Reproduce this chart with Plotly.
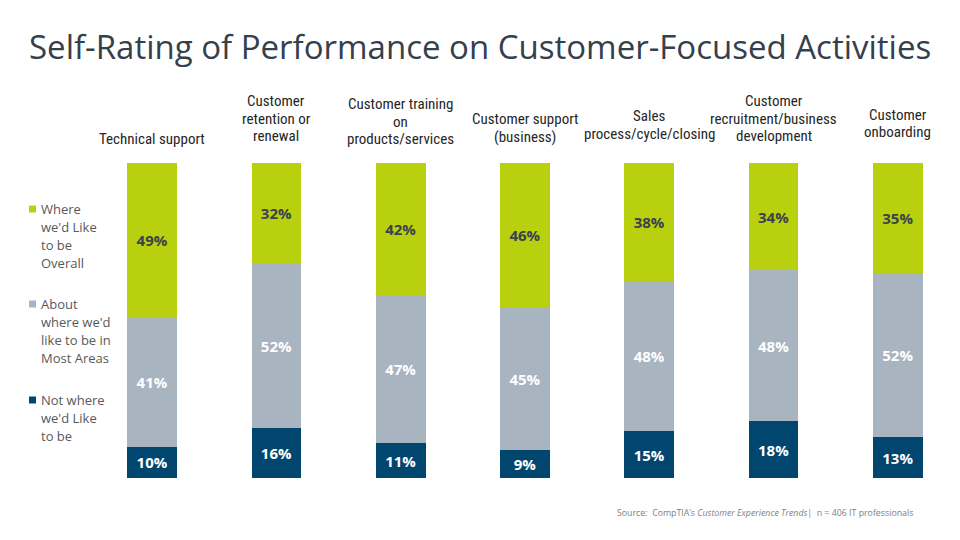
import plotly.graph_objects as go

categories = ["Technical support", "Customer retention or renewal", "Customer training on products/services",
              "Customer support (business)", "Sales process/cycle/closing",
              "Customer recruitment/business development", "Customer onboarding"]
cat_lines = [["Technical support"], ["Customer", "retention or", "renewal"], ["Customer training", "on", "products/services"],
             ["Customer support", "(business)"], ["Sales", "process/cycle/closing"],
             ["Customer", "recruitment/business", "development"], ["Customer", "onboarding"]]
cat_first_line_y = [139, 101, 104, 119, 116, 101, 115]
not_where = [10, 16, 11, 9, 15, 18, 13]
about_where = [41, 52, 47, 45, 48, 48, 52]
where_like = [49, 32, 42, 46, 38, 34, 35]
series_names = ["Not where we'd Like to be", "About where we'd like to be in Most Areas", "Where we'd Like to be Overall"]
legend_lines = [["Where", "we'd Like", "to be", "Overall"],
                ["About", "where we'd", "like to be in", "Most Areas"],
                ["Not where", "we'd Like", "to be"]]

NAVY = "#00466E"
GRAY = "#A8B4C0"
GREEN = "#B8D00E"

L, T, B = 90, 163, 478
PW, PH = 870, B - T


def px(xp):
    return (xp - L) / PW


def py(yp):
    return (B - yp) / PH


fig = go.Figure()
for name, vals, col, tcol in [(series_names[0], not_where, NAVY, "white"),
                              (series_names[1], about_where, GRAY, "white"),
                              (series_names[2], where_like, GREEN, "#3A4250")]:
    fig.add_trace(go.Bar(
        x=categories, y=vals, name=name, marker=dict(color=col, line=dict(width=0)),
        text=[f"{v}%" for v in vals], textposition="inside", insidetextanchor="middle",
        textfont=dict(family="Open Sans", size=15, color=tcol, weight="bold"),
        textangle=0, width=0.4, showlegend=False,
    ))

fig.update_layout(
    barmode="stack", barnorm="percent",
    width=960, height=540, margin=dict(l=L, r=0, t=T, b=540 - B),
    paper_bgcolor="white", plot_bgcolor="white",
    xaxis=dict(range=[-0.5, 6.5], showticklabels=False, showgrid=False, zeroline=False, showline=False),
    yaxis=dict(range=[0, 100], showticklabels=False, showgrid=False, zeroline=False, showline=False),
)

# Title
fig.add_annotation(text="Self-Rating of Performance on Customer-Focused Activities",
                   xref="paper", yref="paper", x=px(480), y=py(47), xanchor="center", yanchor="middle",
                   showarrow=False, font=dict(family="Open Sans", size=33, color="#34404C"))

# Category labels (one annotation per line)
catfont = dict(family="Liberation Sans Narrow, Roboto Condensed, Roboto, sans-serif", size=15,
               color="#262626")
for c, lines, y0 in zip(categories, cat_lines, cat_first_line_y):
    for i, ln in enumerate(lines):
        fig.add_annotation(text=ln, x=c, xref="x", y=py(y0 + i * 17.5), yref="paper",
                           yanchor="middle", xanchor="center", showarrow=False, font=catfont)

# Legend (custom)
leg_cols = [GREEN, GRAY, NAVY]
leg_y = [209, 304, 400]
for lines, col, yy in zip(legend_lines, leg_cols, leg_y):
    fig.add_shape(type="rect", xref="paper", yref="paper",
                  x0=px(29), x1=px(36), y0=py(yy + 3.5), y1=py(yy - 3.5),
                  fillcolor=col, line=dict(width=0))
    for i, ln in enumerate(lines):
        fig.add_annotation(text=ln, xref="paper", yref="paper", x=px(39), y=py(yy + i * 18),
                           xanchor="left", yanchor="middle", showarrow=False,
                           font=dict(family="Open Sans", size=13, color="#595959"))

# Source
fig.add_annotation(text="Source:  CompTIA’s <i>Customer Experience Trends</i>|  n = 406 IT professionals",
                   xref="paper", yref="paper", x=px(915), y=py(513),
                   xanchor="right", yanchor="middle", showarrow=False,
                   font=dict(family="Open Sans", size=8.8, color="#808080"))

fig.write_html("out.html")
